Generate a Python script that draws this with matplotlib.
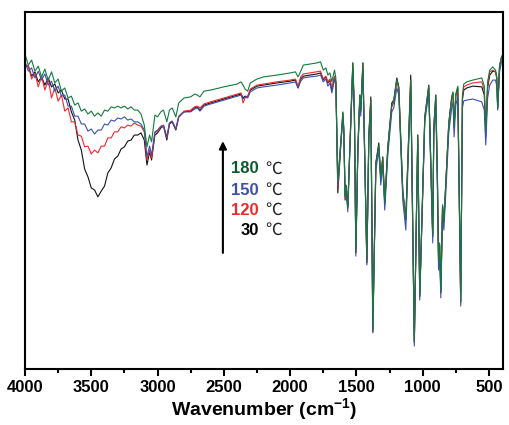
"""FTIR spectra of the sample after heating at 30/120/150/180 C."""
import matplotlib
matplotlib.use("Agg")
import matplotlib.pyplot as plt

# wavenumber grid (cm-1), shared by all four spectra
wavenumber = [
    4000, 3975, 3950, 3925, 3900, 3875, 3850, 3825, 3800, 3775, 3750, 3725,
    3700, 3675, 3650, 3625, 3600, 3575, 3550, 3525, 3500, 3475, 3450, 3425,
    3400, 3375, 3350, 3325, 3300, 3275, 3250, 3225, 3200, 3175, 3150, 3125,
    3100,
    3080, 3060, 3045, 3020, 3000, 2975, 2955, 2930, 2910, 2890, 2862, 2840,
    2800, 2750, 2720, 2700, 2680, 2650, 2600, 2500, 2400, 2370, 2355, 2340,
    2320, 2300, 2250, 2200, 2100, 2000,
    1960, 1940, 1920, 1900, 1850, 1800, 1770, 1750, 1730, 1715, 1700, 1685,
    1665, 1655,
    1640, 1620, 1602, 1595, 1585, 1578, 1565, 1550, 1527, 1515, 1504, 1489,
    1474, 1467, 1451, 1421, 1406, 1391, 1376, 1353, 1331, 1316, 1301, 1286,
    1263, 1233, 1218, 1195, 1180, 1150, 1127, 1090, 1063, 1037, 1022,
    984, 954, 931, 924, 916, 901, 889, 880, 872, 863, 850, 840, 828, 803,
    780, 771, 763, 750, 735, 713, 700, 690, 667, 622, 554, 535, 524, 510,
    494, 471, 450, 441, 434, 420, 405, 396,
]

# transmittance (%)
t_30 = [
    84.8, 84.8, 82.0, 83.2, 80.4, 81.8, 79.5, 81.5, 79.0, 79.8, 77.3, 78.1,
    75.6, 75.6, 72.0, 69.7, 64.1, 61.3, 56.0, 53.8, 50.7, 50.1, 48.2, 49.8,
    51.2, 54.9, 56.3, 58.8, 59.6, 61.6, 62.2, 63.8, 64.1, 65.5, 65.5, 66.1,
    64.1,
    57.1, 60.8, 58.5, 65.5, 66.1, 67.5, 68.0, 64.1, 68.6, 69.2, 66.9, 70.6,
    72.0, 72.2, 73.1, 73.4, 72.5, 73.9, 74.5, 75.6, 76.7, 77.0, 75.9, 76.4,
    76.2, 78.1, 79.2, 79.5, 80.1, 80.6,
    80.9, 78.7, 81.2, 82.0, 82.3, 82.6, 82.9, 80.9, 81.8, 80.1, 80.9, 78.1,
    81.8, 80.4,
    49.3, 61.3, 71.7, 66.9, 47.3, 51.5, 45.4, 61.3, 85.7, 72.5, 32.5, 61.3,
    76.7, 72.5, 85.7, 29.7, 65.5, 76.2, 10.4, 57.7, 63.3, 53.8, 59.4, 46.5,
    62.2, 74.5, 75.3, 81.5, 79.0, 49.3, 41.7, 82.3, 7.3, 65.5, 20.2,
    70.6, 79.5, 47.3, 37.0, 67.8, 76.7, 54.3, 30.0, 34.7, 21.3, 45.9, 41.2,
    50.1, 68.9, 76.2, 77.3, 67.8, 76.7, 78.7, 18.5, 75.3, 78.1, 78.7, 79.2,
    79.0, 76.7, 65.0, 78.7, 82.3, 83.4, 83.2, 81.5, 73.1, 84.8, 87.4, 87.9,
]
t_120 = [
    84.3, 85.1, 81.2, 82.9, 79.0, 82.0, 78.1, 81.2, 75.9, 78.7, 75.0, 76.7,
    72.2, 73.1, 69.2, 69.2, 65.5, 65.2, 62.2, 62.4, 60.2, 61.3, 60.5, 62.4,
    62.4, 64.7, 64.7, 66.4, 66.4, 67.8, 67.5, 68.3, 68.0, 68.9, 68.3, 68.0,
    66.4,
    58.5, 61.3, 59.1, 66.1, 66.6, 67.8, 68.0, 64.7, 68.9, 69.4, 67.2, 70.8,
    72.2, 72.5, 73.4, 73.6, 73.1, 74.2, 74.8, 75.9, 77.0, 77.3, 74.5, 75.9,
    76.4, 78.4, 79.5, 79.8, 80.4, 80.9,
    81.2, 79.2, 81.8, 82.6, 82.9, 83.2, 83.4, 81.2, 82.0, 80.4, 81.2, 78.7,
    82.0, 80.4,
    50.7, 61.9, 71.1, 66.9, 47.9, 51.2, 45.1, 61.3, 85.1, 72.0, 32.8, 61.3,
    76.4, 72.0, 85.1, 30.0, 65.2, 75.3, 10.9, 57.1, 62.2, 52.9, 58.5, 45.9,
    61.3, 73.4, 74.5, 80.9, 78.1, 49.6, 42.3, 80.9, 7.6, 65.0, 20.4,
    70.3, 78.7, 46.8, 37.0, 66.9, 75.9, 53.5, 30.0, 34.7, 21.6, 45.4, 41.2,
    49.6, 68.3, 75.9, 76.7, 67.5, 76.4, 78.7, 18.8, 76.2, 79.0, 79.5, 80.1,
    80.4, 78.1, 66.1, 79.5, 83.2, 83.7, 83.2, 81.5, 73.1, 84.8, 87.1, 87.6,
]
t_150 = [
    86.2, 83.4, 84.3, 81.5, 83.4, 80.9, 82.6, 79.5, 80.6, 77.8, 79.2, 76.4,
    76.7, 73.6, 73.6, 70.8, 70.8, 68.6, 68.6, 66.6, 67.2, 65.8, 66.9, 66.9,
    68.6, 68.3, 69.7, 69.4, 70.3, 70.0, 70.6, 69.7, 70.0, 69.2, 69.2, 68.6,
    66.9,
    59.4, 62.4, 59.9, 66.4, 66.9, 68.0, 68.3, 65.0, 68.9, 69.4, 67.2, 70.6,
    72.0, 72.0, 72.8, 73.1, 72.2, 73.6, 74.2, 75.3, 76.4, 76.7, 75.6, 76.2,
    75.9, 77.6, 78.7, 79.0, 79.5, 80.1,
    80.4, 78.7, 80.6, 81.5, 81.8, 82.0, 82.3, 80.4, 81.2, 79.2, 80.1, 77.3,
    81.2, 79.5,
    51.5, 62.2, 70.3, 66.1, 48.4, 50.7, 44.0, 59.9, 84.3, 71.1, 31.6, 60.5,
    75.3, 70.8, 83.7, 29.1, 64.1, 73.9, 10.1, 55.7, 61.3, 51.5, 57.1, 44.5,
    59.9, 72.0, 73.1, 78.7, 76.7, 47.3, 38.9, 79.5, 6.4, 64.1, 19.3,
    69.2, 77.3, 44.5, 35.3, 65.5, 73.9, 50.7, 27.7, 31.9, 19.9, 43.1, 38.9,
    47.3, 66.1, 73.4, 74.5, 65.0, 73.9, 76.2, 17.6, 73.1, 75.1, 75.3, 75.6,
    74.8, 72.5, 62.7, 75.9, 79.5, 80.9, 80.9, 79.2, 72.5, 83.2, 86.0, 86.5,
]
t_180 = [
    88.2, 85.1, 86.5, 83.4, 84.8, 81.8, 84.0, 80.9, 83.2, 80.1, 81.2, 77.8,
    78.7, 75.9, 76.4, 73.9, 74.5, 72.2, 72.8, 71.4, 72.2, 70.8, 71.7, 70.8,
    72.5, 72.2, 73.4, 73.1, 73.6, 73.1, 73.6, 72.8, 73.4, 72.5, 72.5, 71.4,
    68.3,
    62.2, 65.5, 63.6, 71.1, 70.6, 72.0, 72.5, 69.2, 72.5, 73.1, 70.6, 74.5,
    75.9, 76.2, 77.0, 76.7, 76.2, 77.8, 78.1, 79.0, 79.8, 80.4, 79.5, 78.4,
    77.8, 80.1, 81.2, 81.8, 82.3, 82.9,
    83.2, 81.8, 83.4, 85.1, 85.4, 85.7, 86.0, 83.7, 84.3, 82.3, 82.9, 80.4,
    83.7, 81.5,
    52.9, 62.7, 72.0, 67.5, 48.7, 51.2, 45.1, 61.3, 85.7, 72.0, 33.3, 61.3,
    76.7, 72.5, 85.7, 30.5, 65.5, 75.3, 10.9, 57.7, 62.7, 53.5, 59.1, 46.5,
    61.9, 73.9, 74.8, 80.9, 78.7, 50.1, 42.3, 80.9, 8.1, 65.5, 20.7,
    70.3, 79.2, 47.3, 37.5, 67.5, 76.7, 54.3, 30.5, 35.3, 22.1, 45.9, 41.7,
    50.1, 68.9, 76.4, 77.6, 68.0, 77.0, 79.2, 19.3, 76.7, 79.8, 80.4, 80.9,
    81.5, 79.2, 66.9, 80.4, 83.7, 84.6, 83.7, 81.8, 73.1, 84.8, 87.4, 87.9,
]

labels = ["30", "120", "150", "180"]
colors = ["#111111", "#ee2a2e", "#3c4fae", "#137a3c"]
label_colors = ["#000000", "#ee2a2e", "#3c4fae", "#0d5a2b"]
series = [t_30, t_120, t_150, t_180]

plt.rcParams["font.family"] = ["Liberation Sans", "DejaVu Sans"]
plt.rcParams["mathtext.fontset"] = "custom"
plt.rcParams["mathtext.bf"] = "Liberation Sans:bold"

fig = plt.figure(figsize=(5.1, 4.25), dpi=100)
ax = fig.add_axes([0.049, 0.132, 0.937, 0.840])

for t, c in zip(series, colors):
    ax.plot(wavenumber, t, color=c, lw=0.8)

ax.set_xlim(4000, 395)
ax.set_ylim(0, 100)
ax.set_xticks([4000, 3500, 3000, 2500, 2000, 1500, 1000, 500])
ax.set_xticks(range(3750, 400, -500), minor=True)
ax.set_yticks([])
ax.tick_params(axis="x", which="major", direction="out", length=5, width=1.5,
               labelsize=12, pad=3)
ax.tick_params(axis="x", which="minor", direction="out", length=3, width=1.5)
for lbl in ax.get_xticklabels():
    lbl.set_fontweight("bold")
for s in ax.spines.values():
    s.set_linewidth(1.5)
ax.set_xlabel("Wavenumber (cm$^{\\mathbf{-1}}$)", fontsize=14,
              fontweight="bold", labelpad=1)

# temperature arrow + labels
ax.annotate("", xy=(2507, 63.8), xytext=(2507, 32.5),
            arrowprops=dict(arrowstyle="-|>", lw=1.5, color="k",
                            mutation_scale=11, shrinkA=0, shrinkB=0))
for lab, c, y in zip(labels, label_colors, [38.9, 44.5, 50.1, 56.0]):
    ax.text(2236, y, lab, color=c, fontsize=12, fontweight="bold",
            ha="right", va="center")
    ax.text(2190, y, "\u2103", color="#222222", fontsize=12, ha="left",
            va="center", family=["Noto Sans CJK SC", "DejaVu Sans"],
            fontweight="light")

fig.savefig("out.png", dpi=100)
